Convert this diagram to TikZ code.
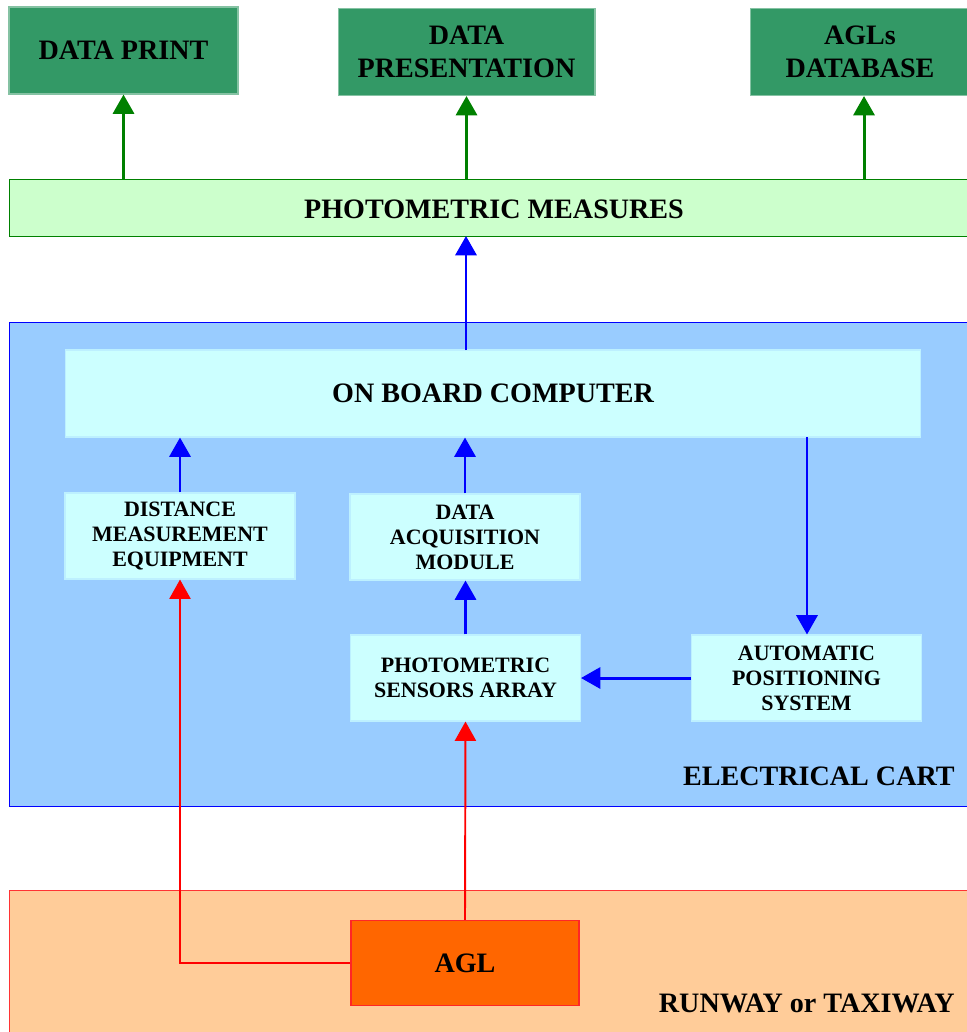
\documentclass[tikz,border=0pt]{standalone}
\usepackage{fontspec}
\setmainfont{Liberation Serif}
\usetikzlibrary{arrows.meta,positioning}

\definecolor{outgreen}{HTML}{339966}
\definecolor{measgreen}{HTML}{CCFFCC}
\definecolor{cartblue}{HTML}{99CCFF}
\definecolor{unitcyan}{HTML}{CCFFFF}
\definecolor{runwayorange}{HTML}{FFCC99}
\definecolor{aglorange}{HTML}{FF6600}
\definecolor{linegreen}{HTML}{008000}

\begin{document}
\begin{tikzpicture}[
    x=0.02cm, y=-0.02cm,
    outbox/.style={rectangle, fill=outgreen, draw=outgreen!60, line width=0.6pt,
        align=center, font=\fontsize{16}{18.5}\selectfont\bfseries,
        minimum width=4.58cm, minimum height=1.74cm},
    unitbox/.style={rectangle, fill=unitcyan, draw=unitcyan!70!cartblue, line width=0.6pt,
        align=center, font=\fontsize{12.5}{14.2}\selectfont\bfseries,
        minimum width=4.6cm, minimum height=1.72cm},
    region/.style={rectangle, line width=0.6pt, anchor=north west},
    arealabel/.style={anchor=east, inner sep=0pt, font=\fontsize{16}{18.5}\selectfont\bfseries},
    greenflow/.style={draw=linegreen, line width=1.7pt, -{Triangle[length=11pt,width=12pt]}},
    blueflow/.style={draw=blue, line width=1.7pt, -{Triangle[length=11pt,width=12pt]}},
    redflow/.style={draw=red, line width=1.1pt, -{Triangle[length=11pt,width=12pt]}}
]
\useasboundingbox (0,0) rectangle (967,1032);

% areas
\node (cart) [region, fill=cartblue, draw=blue, minimum width=19.2cm, minimum height=9.68cm] at (9,322) {};
\node (runway) [region, fill=runwayorange, draw=red!80, minimum width=19.2cm, minimum height=3cm] at (9,890) {};
\node (cartlabel) [arealabel] at (955,776) {ELECTRICAL CART};
\node (runwaylabel) [arealabel] at (955,1003) {RUNWAY or TAXIWAY};

% outputs
\node (print) [outbox] at (123.5,50.5) {DATA PRINT};
\node (present) [outbox, minimum width=5.14cm] at (466.5,52) {DATA\\PRESENTATION};
\node (database) [outbox, minimum width=4.4cm] at (860,52) {AGLs\\DATABASE};
\node (measures) [rectangle, fill=measgreen, draw=linegreen, line width=0.6pt,
    minimum width=19.2cm, minimum height=1.14cm, anchor=north west] at (9,179) {};
\node (measlabel) [font=\fontsize{16}{18.5}\selectfont\bfseries] at (494,209) {PHOTOMETRIC MEASURES};
\coordinate (dbfeed) at (864,179);
\coordinate (measfeed) at (466,236);

% electrical cart units
\node (computer) [unitbox, minimum width=17.12cm, minimum height=1.74cm,
    font=\fontsize{16}{18.5}\selectfont\bfseries] at (493,393.5) {ON BOARD COMPUTER};
\node (distance) [unitbox] at (180,536) {DISTANCE\\MEASUREMENT\\EQUIPMENT};
\node (acquisition) [unitbox] at (465,537) {DATA\\ACQUISITION\\MODULE};
\node (sensors) [unitbox] at (465.5,678) {PHOTOMETRIC\\SENSORS ARRAY};
\node (positioning) [unitbox] at (806.5,678) {AUTOMATIC\\POSITIONING\\SYSTEM};
\coordinate (obcup) at (466,350);
\coordinate (obcdown) at (807,437);

% light under test
\node (agl) [rectangle, fill=aglorange, draw=red!85, line width=0.8pt,
    minimum width=4.56cm, minimum height=1.7cm,
    font=\fontsize{16}{18.5}\selectfont\bfseries] at (465,963) {AGL};

% flows
\draw [greenflow] (print.south |- measures.north) -- (print.south);
\draw [greenflow] (present.south |- measures.north) -- (present.south);
\draw [greenflow] (dbfeed) -- (dbfeed |- database.south);
\draw [blueflow] (obcup) -- (measfeed);
\draw [blueflow] (distance.north) -- (distance.north |- computer.south);
\draw [blueflow] (acquisition.north) -- (acquisition.north |- computer.south);
\draw [blueflow] (sensors.north) -- (acquisition.south -| sensors.north);
\draw [blueflow] (obcdown) -- (obcdown |- positioning.north);
\draw [blueflow] (positioning.west) -- (sensors.east);
\draw [redflow] (agl.north) -- (sensors.south);
\draw [redflow] (agl.west) -| (distance.south);

\end{tikzpicture}
\end{document}
